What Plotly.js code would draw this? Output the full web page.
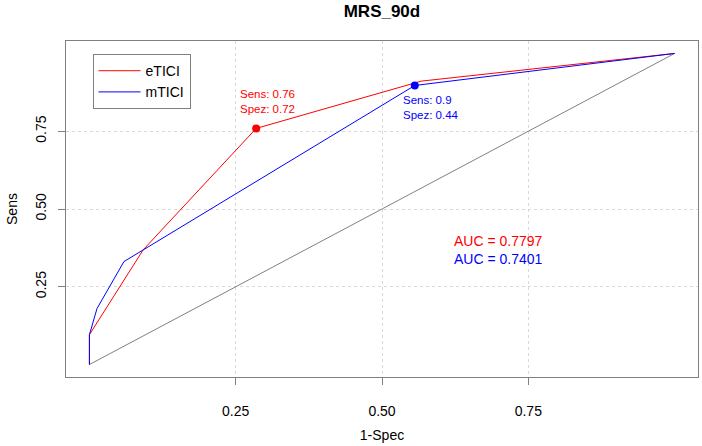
<!DOCTYPE html>
<html>
<head>
<meta charset="utf-8">
<script src="https://cdn.plot.ly/plotly-3.0.1.min.js"></script>
<style>html,body{margin:0;padding:0;background:#fff;}#chart{width:702px;height:446px;}</style>
</head>
<body>
<div id="chart"></div>
<script>
// ROC curve data (1-Spec, Sens)
const eticiX = [0, 0, 0.092, 0.285, 0.567, 1];
const eticiY = [0, 0.096, 0.369, 0.759, 0.911, 1];
const mticiX = [0, 0, 0.013, 0.059, 0.556, 1];
const mticiY = [0, 0.096, 0.180, 0.331, 0.897, 1];
const diagX = [0, 1];
const diagY = [0, 1];
// best threshold point index in each curve
const eticiBest = 3;
const mticiBest = 4;
const bestSens = [0.76, 0.9];
const bestSpez = [0.72, 0.44];
const seriesNames = ["eTICI", "mTICI"];
const aucValues = ["0.7797", "0.7401"];
const tickVals = [0.25, 0.5, 0.75];
const tickText = ["0.25", "0.50", "0.75"];

const RED = "#ff0000", BLUE = "#0000ff", FONT = "Liberation Sans, Arial, sans-serif";

const traces = [
  {x: diagX, y: diagY, mode: "lines", line: {color: "#808080", width: 1}, showlegend: false, hoverinfo: "skip"},
  {x: eticiX, y: eticiY, mode: "lines", name: seriesNames[0], line: {color: RED, width: 1}},
  {x: mticiX, y: mticiY, mode: "lines", name: seriesNames[1], line: {color: BLUE, width: 1}},
  {x: [eticiX[eticiBest]], y: [eticiY[eticiBest]], mode: "markers", marker: {color: RED, size: 8}, showlegend: false},
  {x: [mticiX[mticiBest]], y: [mticiY[mticiBest]], mode: "markers", marker: {color: BLUE, size: 8}, showlegend: false}
];

const axisCommon = {
  range: [-0.04, 1.04], tickvals: tickVals, ticktext: tickText,
  showgrid: true, gridcolor: "#d9d9d9", griddash: "dot", gridwidth: 1,
  zeroline: false, showline: true, mirror: true, linecolor: "#808080", linewidth: 1,
  ticks: "outside", ticklen: 7, tickcolor: "#808080",
  tickfont: {family: FONT, size: 14, color: "#000"}
};

const layout = {
  width: 702, height: 446,
  margin: {l: 66, r: 4, t: 41, b: 69},
  paper_bgcolor: "#fff", plot_bgcolor: "#fff",
  font: {family: FONT, color: "#000"},
  title: {text: "<b>MRS_90d</b>", font: {family: FONT, size: 17, color: "#000"}, x: 0.5441, xanchor: "center", y: 0.975, yanchor: "middle"},
  xaxis: Object.assign({}, axisCommon, {
    title: {text: "1-Spec", font: {family: FONT, size: 14}, standoff: 12},
    ticklabelstandoff: 14
  }),
  yaxis: Object.assign({}, axisCommon, {
    title: {text: "Sens", font: {family: FONT, size: 14}, standoff: 12},
    tickangle: -90, ticklabelstandoff: 6
  }),
  showlegend: true,
  legend: {
    x: 0.042, y: 0.961, xanchor: "left", yanchor: "top",
    bgcolor: "#fff", bordercolor: "#808080", borderwidth: 1,
    font: {family: FONT, size: 14, color: "#000"}, itemwidth: 42, tracegroupgap: 0
  },
  annotations: [
    {x: eticiX[eticiBest], y: eticiY[eticiBest], xref: "x", yref: "y", showarrow: false,
     text: "Sens: " + bestSens[0] + "<br>Spez: " + bestSpez[0], align: "left",
     xshift: 11, yshift: 27, font: {family: FONT, size: 11.5, color: RED}},
    {x: mticiX[mticiBest], y: mticiY[mticiBest], xref: "x", yref: "y", showarrow: false,
     text: "Sens: " + bestSens[1] + "<br>Spez: " + bestSpez[1], align: "left",
     xshift: 16, yshift: -22, font: {family: FONT, size: 11.5, color: BLUE}},
    {x: 0.699, y: 0.398, xref: "x", yref: "y", showarrow: false, xanchor: "center",
     text: "AUC = " + aucValues[0], font: {family: FONT, size: 14, color: RED}},
    {x: 0.699, y: 0.339, xref: "x", yref: "y", showarrow: false, xanchor: "center",
     text: "AUC = " + aucValues[1], font: {family: FONT, size: 14, color: BLUE}}
  ]
};

Plotly.newPlot("chart", traces, layout, {displayModeBar: false, staticPlot: true});
</script>
</body>
</html>
